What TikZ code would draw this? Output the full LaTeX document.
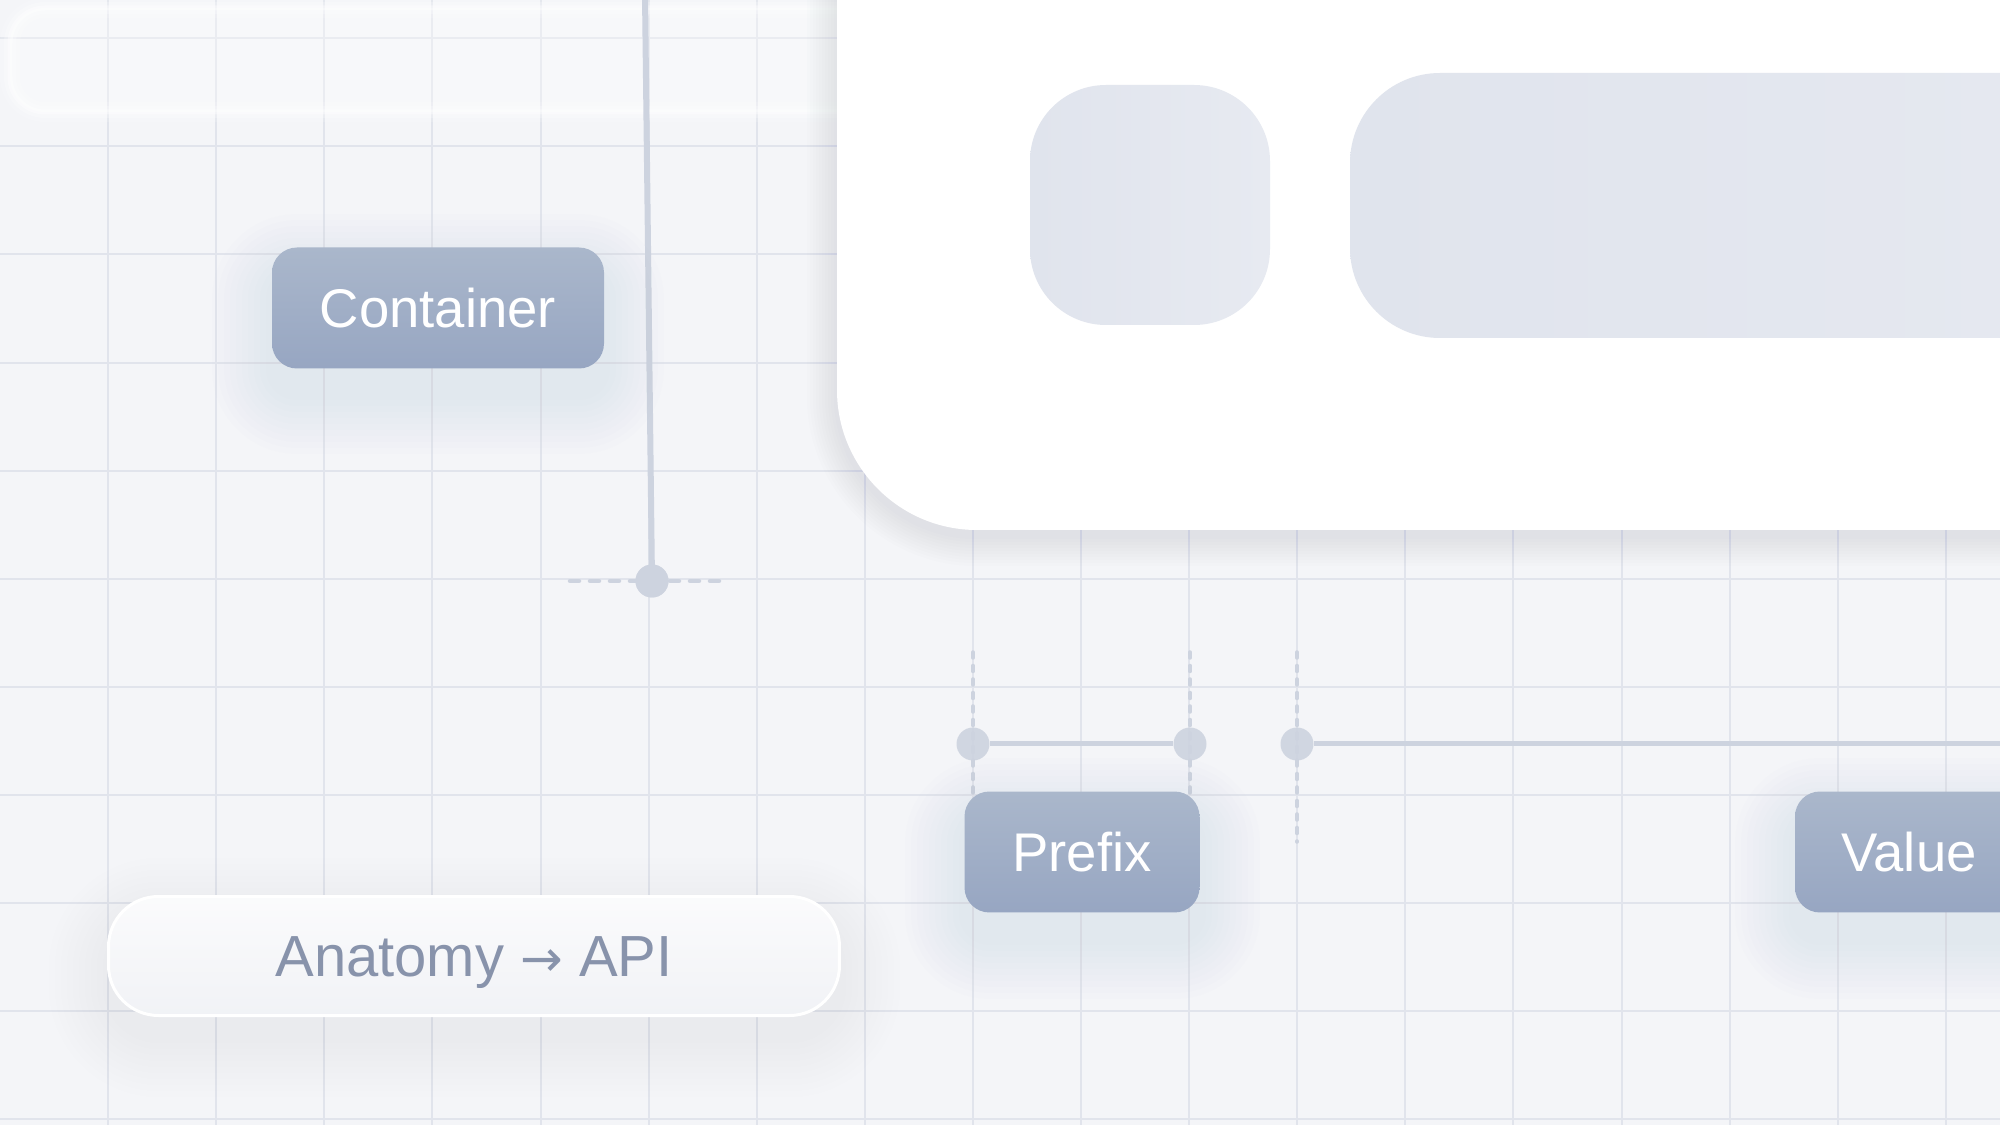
\documentclass[tikz,border=0pt]{standalone}
\usepackage{fontspec}
\setmainfont{Liberation Sans}
\newfontfamily\arrowfont{DejaVu Sans}
\usetikzlibrary{calc}
\definecolor{bg}{HTML}{F4F5F8}
\definecolor{gridc}{HTML}{E1E4EC}
\definecolor{linec}{HTML}{CDD3DF}
\definecolor{nodetop}{HTML}{AAB7CB}
\definecolor{nodebot}{HTML}{97A6C2}
\definecolor{blockc}{HTML}{E0E4ED}
\definecolor{blocklight}{HTML}{E7EAF1}
\definecolor{pilltext}{HTML}{8893AB}
\definecolor{shadowc}{HTML}{8E9AB5}
\newcommand\softshadow[9]{%
  \foreach \i in {1,...,10}{%
    \pgfmathsetmacro\ee{\i*#6}%
    \pgfmathsetmacro\rr{(#5+\ee)/10}%
    \fill[#8, fill opacity=#9, rounded corners=\rr mm]
      ({#1-\ee},{#2-\ee+#7}) rectangle ({#3+\ee},{#4+\ee+#7});
  }}
\begin{document}
\begin{tikzpicture}[x=0.1mm,y=-0.1mm,
  gridline/.style={gridc, line width=0.2mm},
  conn/.style={linec, line width=0.6mm, line cap=round},
  dashconn/.style={linec, line width=0.45mm, line cap=round, dash pattern=on 0.9mm off 1.1mm},
  vdash/.style={linec, line width=0.35mm, line cap=round, dash pattern=on 0.6mm off 0.75mm},
  measure/.style={linec, line width=0.5mm},
  dotnode/.style={circle, fill=linec, fill opacity=0.9, minimum size=3.3mm, inner sep=0pt},
  tagnode/.style={rounded corners=2.5mm, top color=nodetop, bottom color=nodebot,
    text=white, font=\fontsize{15.5}{18}\selectfont, minimum height=12.1mm,
    inner sep=0pt, text height=3.9mm, text depth=0pt},
  pillnode/.style={rounded corners=5mm, top color=white!60!bg, bottom color=bg!97!shadowc,
    draw=white, line width=0.3mm, text=pilltext, font=\fontsize{16.5}{19}\selectfont,
    minimum width=73.1mm, minimum height=11.9mm, inner sep=0pt, text height=4.1mm, text depth=0pt},
  blockshade/.style={left color=blockc, right color=blocklight}
]
\useasboundingbox (0,0) rectangle (2000,1125);
\clip (0,0) rectangle (2000,1125);
\fill[bg] (0,0) rectangle (2000,1125);
% grid
\foreach \k in {1,...,18} \draw[gridline] ({108.1*\k},0) -- ({108.1*\k},1125);
\foreach \k in {0,...,10} \draw[gridline] (0,{38.3+108.1*\k}) -- (2000,{38.3+108.1*\k});
% top frosted band
\fill[white, fill opacity=0.3, rounded corners=3.5mm] (10,8) rectangle (900,112);
\foreach \w/\o in {20/0.15, 12/0.25, 5/0.4}
  \draw[white, draw opacity=\o, line width=\w*0.1mm, rounded corners=3.5mm] (10,8) rectangle (900,112);
% card
\softshadow{837}{-300}{2300}{530}{140}{3}{6}{shadowc}{0.02}
\fill[white, rounded corners=14mm] (837,-300) rectangle (2300,530);
\node[blockshade, rounded corners=7.6mm, minimum width=24mm, minimum height=24mm, inner sep=0pt] (icon) at (1150,205) {};
\shade[blockshade, rounded corners=9mm] (1350,73) rectangle (2300,338);
% vertical connector with dashed end
\coordinate (vtop) at (645,-5);
\coordinate (dl) at (570,581);
\coordinate (dr) at (728,581);
\node[dotnode] (d0) at (652,581) {};
\draw[dashconn] (dl) -- (dr);
\draw[conn] (vtop) -- (d0.center);
\node[dotnode] at (d0) {};
% Container
\softshadow{272}{248}{604}{368}{25}{6}{26}{shadowc}{0.011}
\node[tagnode, minimum width=33.2mm] (container) at (438,308) {Container};
% measurement
\coordinate (t1) at (973,652); \coordinate (b1) at (973,795);
\coordinate (t2) at (1190,652); \coordinate (b2) at (1190,795);
\coordinate (t3) at (1297,652); \coordinate (b3) at (1297,842);
\coordinate (mr) at (2010,744);
\draw[vdash] (t1) -- (b1);
\draw[vdash] (t2) -- (b2);
\draw[vdash] (t3) -- (b3);
\node[dotnode] (m1) at (973,744) {};
\node[dotnode] (m2) at (1190,744) {};
\node[dotnode] (m3) at (1297,744) {};
\draw[measure] (m1) -- (m2);
\draw[measure] (m3) -- (mr);
% Prefix / Value
\softshadow{965}{792}{1200}{913}{25}{6}{26}{shadowc}{0.011}
\node[tagnode, minimum width=23.5mm] (prefix) at (1082,852) {Prefix};
\softshadow{1795}{792}{2023}{913}{25}{6}{26}{shadowc}{0.011}
\node[tagnode, minimum width=22.8mm] (value) at (1909,852) {Value};
% pill
\softshadow{109}{896}{840}{1015}{50}{6}{22}{shadowc}{0.009}
\node[pillnode] (pill) at (474,956) {Anatomy {\arrowfont\fontsize{14.5}{17}\selectfont →} API};
\end{tikzpicture}
\end{document}
